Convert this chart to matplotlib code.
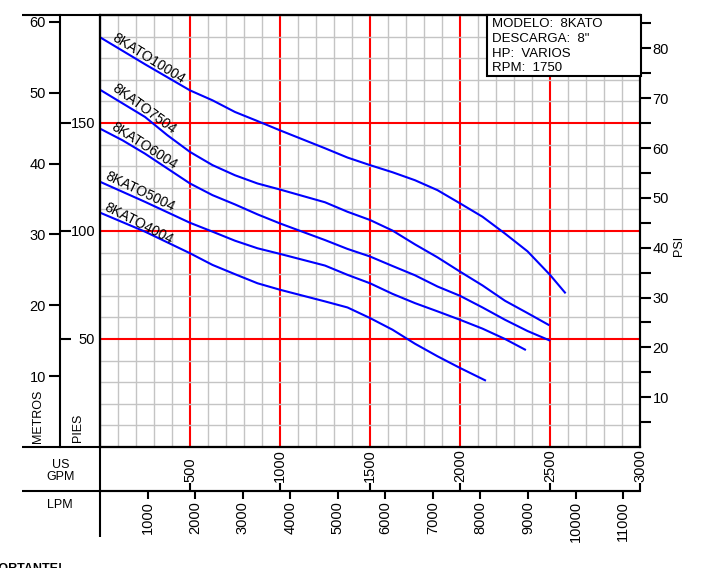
import matplotlib
matplotlib.use("Agg")
import matplotlib.pyplot as plt
from matplotlib.lines import Line2D
from matplotlib.patches import Rectangle
from matplotlib.ticker import FixedLocator, MultipleLocator, NullFormatter

plt.rcParams['font.family'] = ['Liberation Sans', 'DejaVu Sans']

# Curvas de la bomba 8KATO (GPM, pies)
gpm_10004 = [0, 250, 500, 625, 750, 875, 1000, 1250, 1375, 1500, 1625, 1750, 1875,
             2000, 2125, 2250, 2375, 2500, 2583]
ft_10004 = [189.7, 177.2, 165.1, 160.5, 155.1, 150.9, 146.6, 138.3, 134, 130.5, 127.2,
            123.5, 118.9, 112.8, 106.6, 98.8, 90.6, 79.7, 71.5]
gpm_7504 = [0, 250, 375, 500, 625, 750, 875, 1000, 1250, 1375, 1500, 1625, 1750, 1875,
            2000, 2125, 2250, 2375, 2491]
ft_7504 = [165.4, 152.8, 144.3, 136.6, 130.5, 125.8, 122, 119.2, 113.3, 108.9, 105.1,
           100.2, 93.8, 87.8, 81.2, 74.8, 67.7, 62, 56.6]
gpm_6004 = [0, 125, 250, 375, 500, 625, 750, 875, 1000, 1250, 1375, 1500, 1625, 1750,
            1875, 2000, 2125, 2250, 2375, 2496]
ft_6004 = [147.4, 142, 135.8, 128.9, 122, 116.6, 112.3, 107.7, 103.5, 95.8, 91.7, 88.2,
           83.8, 79.5, 74.3, 70, 64.6, 58.9, 53.7, 49.4]
gpm_5004 = [0, 250, 500, 625, 750, 875, 1000, 1250, 1375, 1500, 1625, 1750, 1875, 2000,
            2125, 2250, 2361]
ft_5004 = [122.8, 113.5, 103.8, 99.7, 95.5, 92, 89.4, 84, 79.7, 75.8, 70.9, 66.6, 62.8,
           58.9, 54.8, 50, 45.1]
gpm_4004 = [0, 250, 500, 625, 750, 875, 1000, 1250, 1375, 1500, 1625, 1750, 1875, 2000,
            2139]
ft_4004 = [108.5, 99.7, 89.7, 84.3, 80, 75.8, 72.8, 67.4, 64.6, 59.7, 54.3, 47.8, 42,
           36.6, 30.9]

nombres = ['8KATO10004', '8KATO7504', '8KATO6004', '8KATO5004', '8KATO4004']
# posicion de las etiquetas (GPM, pies) y angulo
lab_gpm = [272, 244, 244, 222, 217]
lab_ft = [179.8, 156.6, 139.6, 118.3, 103.4]
lab_ang = [-32, -36, -32.6, -25.5, -27]

gpm_ticks = [500, 1000, 1500, 2000, 2500, 3000]
lpm_ticks = [1000, 2000, 3000, 4000, 5000, 6000, 7000, 8000, 9000, 10000, 11000]
metros_ticks = [10, 20, 30, 40, 50, 60]
pies_ticks = [50, 100, 150]
psi_ticks = [10, 20, 30, 40, 50, 60, 70, 80]
psi_minor = [5, 15, 25, 35, 45, 55, 65, 75, 85]

info = ['MODELO:  8KATO', 'DESCARGA:  8"', 'HP:  VARIOS', 'RPM:  1750']

FT_M = 3.28084
FT_PSI = 2.30666
LPM_GPM = 3.78541

W, H = 703, 568
fig = plt.figure(figsize=(W / 100, H / 100), dpi=100)


def fx(px):
    return px / W


def fy(py):
    return 1 - py / H


def fline(x0, y0, x1, y1, lw=1.5):
    fig.add_artist(Line2D([fx(x0), fx(x1)], [fy(y0), fy(y1)], color='black',
                          lw=lw, transform=fig.transFigure, solid_capstyle='butt'))


# Grafica principal
ax = fig.add_axes([fx(100), fy(447), fx(640) - fx(100), fy(15) - fy(447)])
ax.set_xlim(0, 3000)
ax.set_ylim(0, 200)
ax.set_xticks(gpm_ticks[:-1])
ax.set_yticks(pies_ticks)
ax.xaxis.set_minor_locator(MultipleLocator(100))
ax.yaxis.set_minor_locator(MultipleLocator(10))
ax.grid(which='minor', color='#c4c4c4', lw=1.0)
ax.grid(which='major', color='#ff0000', lw=1.5)
ax.set_axisbelow(True)
ax.tick_params(axis='x', which='both', length=0, labelbottom=False)
ax.tick_params(axis='y', which='both', length=0, labelsize=10.5, pad=3.5)
for s in ax.spines.values():
    s.set_linewidth(1.5)

curvas = [(gpm_10004, ft_10004), (gpm_7504, ft_7504), (gpm_6004, ft_6004),
          (gpm_5004, ft_5004), (gpm_4004, ft_4004)]
for (g, f), nom, lg, lf, ang in zip(curvas, nombres, lab_gpm, lab_ft, lab_ang):
    ax.plot(g, f, color='#0000ff', lw=1.5, zorder=3)
    ax.text(lg, lf, nom, rotation=ang, rotation_mode='anchor', ha='center',
            va='center', fontsize=10, zorder=4)

# Eje de metros
ax_m = fig.add_axes([fx(60), fy(447), fx(100) - fx(60), fy(15) - fy(447)])
ax_m.patch.set_visible(False)
ax_m.set_ylim(0, 200 / FT_M)
ax_m.set_xticks([])
for k in ['top', 'right', 'bottom']:
    ax_m.spines[k].set_visible(False)
ax_m.spines['left'].set_linewidth(1.5)
ax_m.set_yticks(metros_ticks)
ax_m.yaxis.set_minor_locator(FixedLocator([p / FT_M for p in pies_ticks]))
ax_m.yaxis.set_minor_formatter(NullFormatter())
ax_m.tick_params(axis='y', which='major', direction='out', length=8, width=1.5,
                 labelsize=10.5, pad=2)
ax_m.tick_params(axis='y', which='minor', direction='in', length=8, width=1.5)

# Eje PSI
ax_p = ax.twinx()
ax_p.set_ylim(0, 200 / FT_PSI)
ax_p.set_yticks(psi_ticks)
ax_p.yaxis.set_minor_locator(FixedLocator(psi_minor))
ax_p.tick_params(axis='y', which='both', direction='out', length=8, width=1.5,
                 labelsize=10.5, pad=1)
for s in ax_p.spines.values():
    s.set_linewidth(1.5)

# Ejes de caudal: LPM abajo, GPM arriba
ax_b = fig.add_axes([fx(100), fy(491), fx(640) - fx(100), 0.0001])
ax_b.patch.set_visible(False)
ax_b.set_xlim(0, 3000 * LPM_GPM)
ax_b.set_yticks([])
for k in ['top', 'left', 'right']:
    ax_b.spines[k].set_visible(False)
ax_b.spines['bottom'].set_linewidth(1.5)
ax_b.set_xticks(lpm_ticks)
ax_b.tick_params(axis='x', direction='out', length=6, width=1.5, labelsize=10.5,
                 rotation=90, pad=1)
sec = ax_b.secondary_xaxis('top', functions=(lambda l: l / LPM_GPM,
                                             lambda g: g * LPM_GPM))
sec.set_xticks(gpm_ticks)
sec.spines['top'].set_visible(False)
sec.tick_params(axis='x', direction='out', length=6, width=1.5, labelsize=10.5,
                rotation=90, pad=0.5)

# Lineas del marco
fline(22, 15, 640, 15)
fline(22, 447, 640, 447)
fline(22, 491, 640, 491)
fline(100, 15, 100, 537)

# Textos de ejes
fig.text(fx(37.5), fy(443), 'METROS', rotation=90, ha='center', va='bottom', fontsize=9)
fig.text(fx(78), fy(442), 'PIES', rotation=90, ha='center', va='bottom', fontsize=9)
fig.text(fx(60.5), fy(471), 'US\nGPM', ha='center', va='center', fontsize=9,
         linespacing=0.95)
fig.text(fx(60), fy(505), 'LPM', ha='center', va='center', fontsize=9)
fig.text(fx(679), fy(246), 'PSI', rotation=90, ha='center', va='center', fontsize=9)
fig.text(fx(-24), fy(563), 'IMPORTANTE!', ha='left', va='top', fontsize=9,
         fontweight='bold')

# Cuadro de datos
fig.add_artist(Rectangle((fx(487), fy(76)), fx(641) - fx(487), fy(15) - fy(76),
                         transform=fig.transFigure, facecolor='white',
                         edgecolor='black', lw=1.5, zorder=5))
for i, linea in enumerate(info):
    fig.text(fx(491.5), fy(24 + 14.8 * i), linea, ha='left', va='center',
             fontsize=9.5, zorder=6)

fig.savefig('out.png', dpi=100)
